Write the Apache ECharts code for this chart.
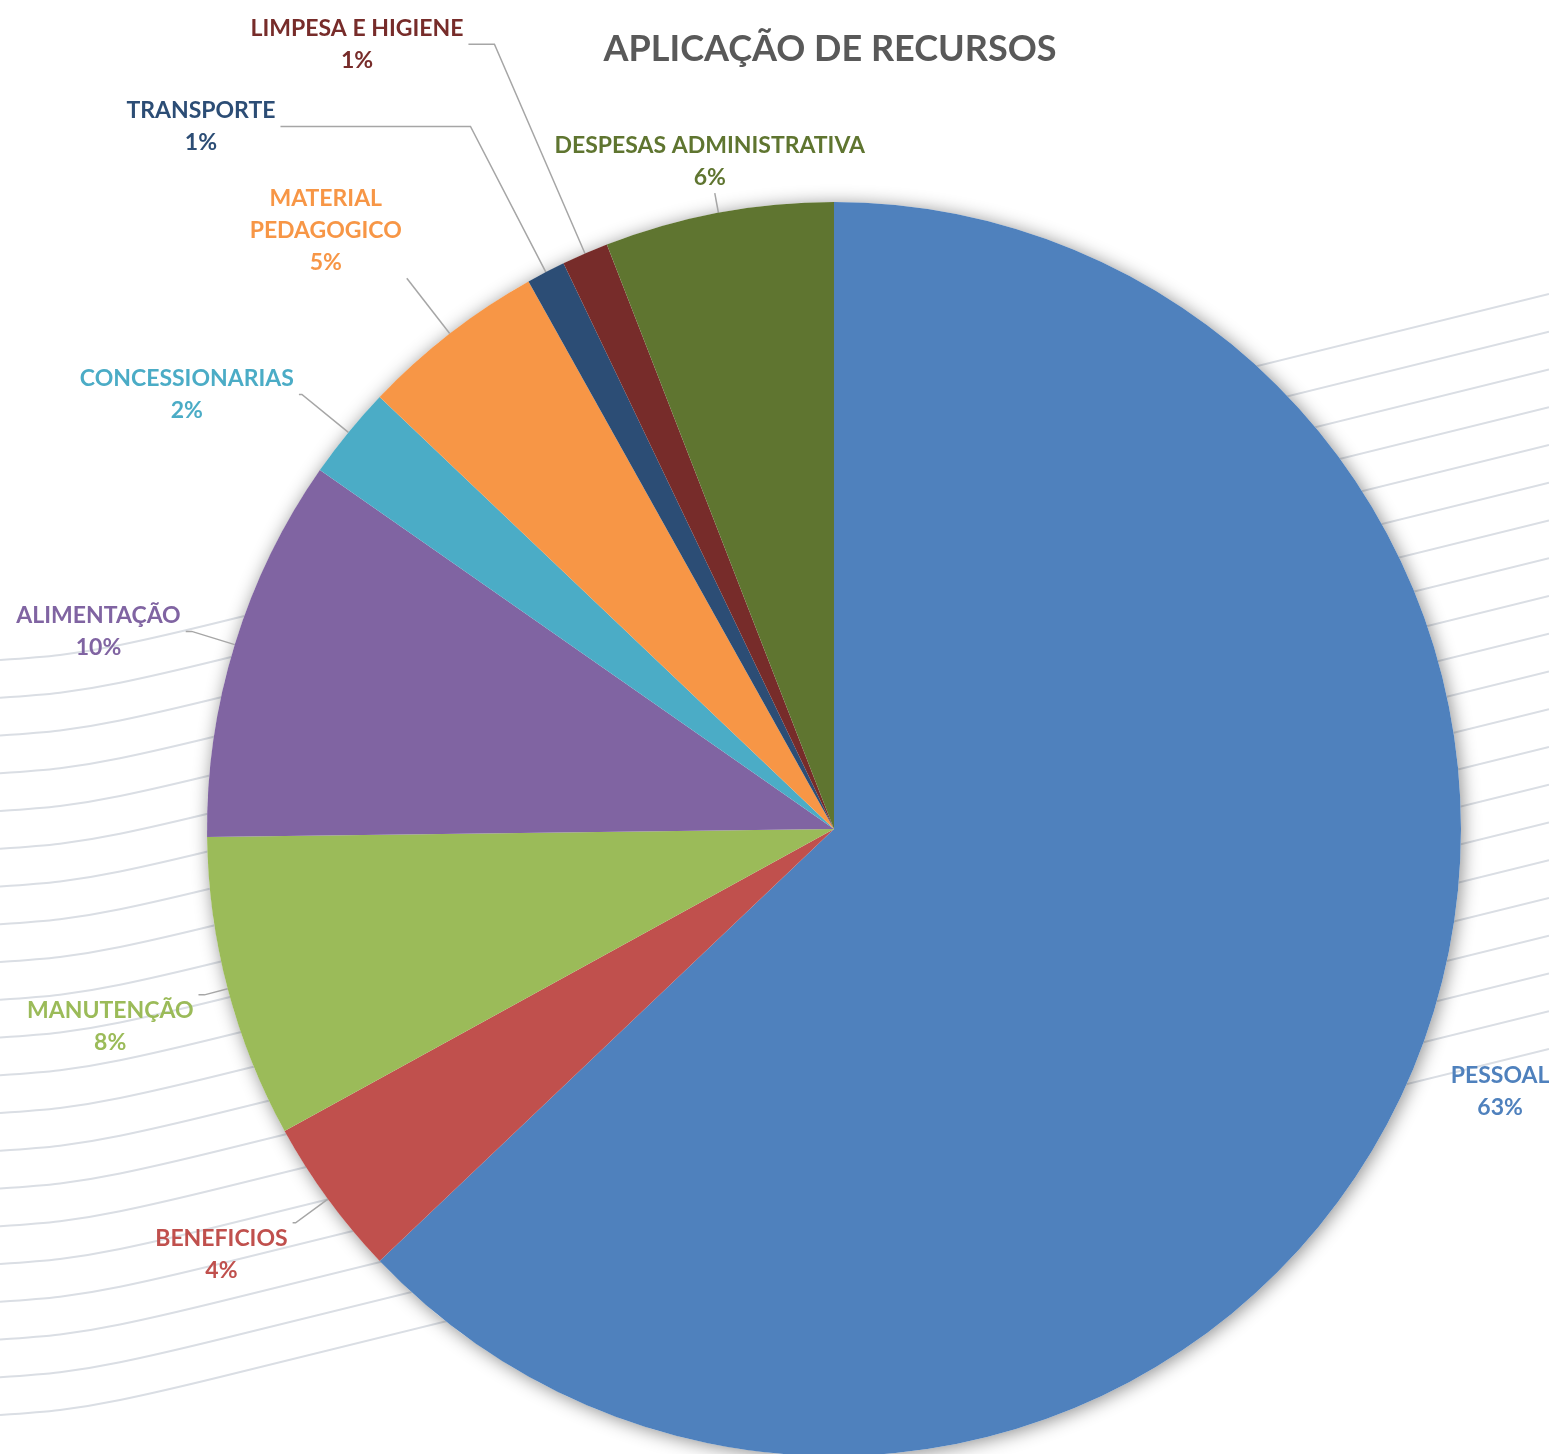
<!DOCTYPE html>
<html>
<head>
<meta charset="utf-8">
<script src="https://cdn.jsdelivr.net/npm/echarts@6/dist/echarts.min.js"></script>
<style>
  html, body { margin: 0; padding: 0; background: #fff; }
  #chart { width: 1549px; height: 1454px; }
</style>
</head>
<body>
<div id="chart"></div>
<script>
// categorias e valores (%)
const categories = [
    'PESSOAL', 'BENEFICIOS', 'MANUTENÇÃO', 'ALIMENTAÇÃO', 'CONCESSIONARIAS',
    'MATERIAL PEDAGOGICO', 'TRANSPORTE', 'LIMPESA E HIGIENE', 'DESPESAS ADMINISTRATIVA'
]
const values = [62.9, 4.1, 7.8, 9.9, 2.4, 4.8, 1.0, 1.2, 5.9]
const colors = [
    '#4F81BD', '#C0504D', '#9BBB59', '#8064A2', '#4BACC6',
    '#F79646', '#2C4D75', '#772C2A', '#5F7530'
]

// estilo dos rótulos (linha guia e alinhamento), mesma ordem das categorias
const labelStyles = [
    {len: 38, len2: 0, align: 'left', vAlign: 'middle', line: false, width: 100},
    {len: 40, len2: 3, align: 'right', vAlign: 'top'},
    {len: 24, len2: 6, align: 'right', vAlign: 'top'},
    {len: 45, len2: 6, align: 'right', vAlign: 'middle'},
    {len: 60, len2: 3, align: 'right', vAlign: 'middle'},
    {len: 70, len2: 0, align: 'right', vAlign: 'bottom'},
    {len: 164, len2: 190, align: 'right', vAlign: 'middle'},
    {len: 228, len2: 26, align: 'right', vAlign: 'middle'},
    {len: 20, len2: 0, align: 'center', vAlign: 'bottom'}
]

const FONT = 'Lato'
const FS = 23
const chart = echarts.init(document.getElementById('chart'))

// linhas onduladas de fundo
let bgLines = []
for (let i = 0; i < 21; i++) {
    let y0 = 660 + i * 37.75
    bgLines.push({
        type: 'polyline',
        z: 0,
        silent: true,
        shape: {
            points: [[0, y0], [60, y0 - 5], [120, y0 - 15], [220, y0 - 38], [1549, y0 - 366]],
            smooth: 0.3
        },
        style: { stroke: '#DADEE4', lineWidth: 2, fill: null }
    })
}

let pieData = categories.map(function (name, i) {
    let st = labelStyles[i]
    let item = {
        name: name,
        value: values[i],
        itemStyle: { color: colors[i] },
        label: { color: colors[i] },
        labelLine: { length: st.len, length2: st.len2, show: st.line !== false }
    }
    if (st.width) {
        item.label.width = st.width
        item.label.overflow = 'none'
    }
    return item
})

function richFont() {
    return {
        fontFamily: FONT,
        fontWeight: 'bold',
        fontSize: FS,
        lineHeight: 32,
        align: 'center'
    }
}

let option = {
    backgroundColor: '#fff',
    title: {
        text: 'APLICAÇÃO DE RECURSOS',
        left: 825,
        top: 26,
        textAlign: 'center',
        textStyle: {
            fontFamily: FONT,
            fontWeight: 'bold',
            fontSize: 36,
            color: '#595959'
        }
    },
    graphic: bgLines,
    series: [{
        // sombra do disco
        type: 'pie',
        silent: true,
        z: 1,
        center: [834, 829],
        radius: 627,
        label: { show: false },
        labelLine: { show: false },
        itemStyle: {
            color: '#fff',
            shadowBlur: 18,
            shadowColor: 'rgba(0,0,0,0.45)',
            shadowOffsetX: 2,
            shadowOffsetY: 2
        },
        data: [{ value: 1, name: '' }]
    }, {
        type: 'pie',
        z: 2,
        center: [834, 829],
        radius: 627,
        startAngle: 90,
        clockwise: true,
        percentPrecision: 0,
        avoidLabelOverlap: false,
        label: {
            show: true,
            position: 'outside',
            formatter: function (p) {
                let name = p.name == 'MATERIAL PEDAGOGICO' ? 'MATERIAL\nPEDAGOGICO' : p.name
                return '{n|' + name + '}\n{n|' + p.percent + '%}'
            },
            fontFamily: FONT,
            fontWeight: 'bold',
            fontSize: FS,
            lineHeight: 32,
            rich: { n: richFont() }
        },
        labelLine: {
            show: true,
            lineStyle: { color: '#A6A6A6', width: 1.5 }
        },
        labelLayout: function (params) {
            let st = labelStyles[params.dataIndex]
            return { align: st.align, verticalAlign: st.vAlign }
        },
        data: pieData
    }]
}
chart.setOption(option)
</script>
</body>
</html>
